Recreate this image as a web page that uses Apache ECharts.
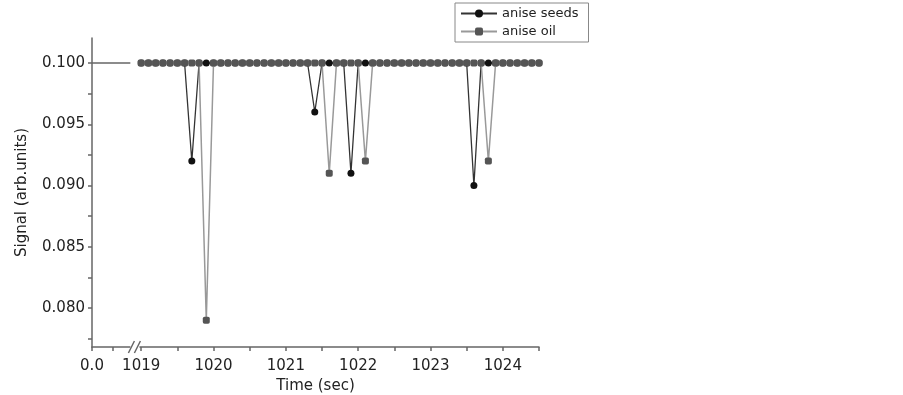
<!DOCTYPE html>
<html>
<head>
<meta charset="utf-8">
<script src="https://cdn.jsdelivr.net/npm/echarts@6/dist/echarts.min.js"></script>
<style>
  html, body { margin: 0; padding: 0; background: #fff; }
  #main { width: 903px; height: 395px; }
</style>
</head>
<body>
<div id="main"></div>
<script>
// 时间 (sec)，断轴右侧
const times = [
  1019.0, 1019.1, 1019.2, 1019.3, 1019.4, 1019.5, 1019.6, 1019.7, 1019.8, 1019.9,
  1020.0, 1020.1, 1020.2, 1020.3, 1020.4, 1020.5, 1020.6, 1020.7, 1020.8, 1020.9,
  1021.0, 1021.1, 1021.2, 1021.3, 1021.4, 1021.5, 1021.6, 1021.7, 1021.8, 1021.9,
  1022.0, 1022.1, 1022.2, 1022.3, 1022.4, 1022.5, 1022.6, 1022.7, 1022.8, 1022.9,
  1023.0, 1023.1, 1023.2, 1023.3, 1023.4, 1023.5, 1023.6, 1023.7, 1023.8, 1023.9,
  1024.0, 1024.1, 1024.2, 1024.3, 1024.4, 1024.5
];
const aniseSeeds = [
  0.100, 0.100, 0.100, 0.100, 0.100, 0.100, 0.100, 0.092, 0.100, 0.100,
  0.100, 0.100, 0.100, 0.100, 0.100, 0.100, 0.100, 0.100, 0.100, 0.100,
  0.100, 0.100, 0.100, 0.100, 0.096, 0.100, 0.100, 0.100, 0.100, 0.091,
  0.100, 0.100, 0.100, 0.100, 0.100, 0.100, 0.100, 0.100, 0.100, 0.100,
  0.100, 0.100, 0.100, 0.100, 0.100, 0.100, 0.090, 0.100, 0.100, 0.100,
  0.100, 0.100, 0.100, 0.100, 0.100, 0.100
];
const aniseOil = [
  0.100, 0.100, 0.100, 0.100, 0.100, 0.100, 0.100, 0.100, 0.100, 0.079,
  0.100, 0.100, 0.100, 0.100, 0.100, 0.100, 0.100, 0.100, 0.100, 0.100,
  0.100, 0.100, 0.100, 0.100, 0.100, 0.100, 0.091, 0.100, 0.100, 0.100,
  0.100, 0.092, 0.100, 0.100, 0.100, 0.100, 0.100, 0.100, 0.100, 0.100,
  0.100, 0.100, 0.100, 0.100, 0.100, 0.100, 0.100, 0.100, 0.092, 0.100,
  0.100, 0.100, 0.100, 0.100, 0.100, 0.100
];
// 断轴左侧 (0.0 开始的一小段)
const leftTimes = [0.0, 0.53];
const leftSignal = [0.100, 0.100];

// 刻度
const xLabelTimes = [0.0, 1019, 1020, 1021, 1022, 1023, 1024];
const xTickTimes = [0.0, 0.28, 1019, 1019.5, 1020, 1020.5, 1021, 1021.5, 1022, 1022.5, 1023, 1023.5, 1024, 1024.5];
const yLabels = [0.080, 0.085, 0.090, 0.095, 0.100];
const yTicks = [0.0775, 0.080, 0.0825, 0.085, 0.0875, 0.090, 0.0925, 0.095, 0.0975, 0.100];

// 断轴映射：1019 之后整体左移
const BREAK_SHIFT = 1018.32;
function toAxis(t) {
  return t >= 1000 ? +(t - BREAK_SHIFT).toFixed(4) : t;
}
function fromAxis(p) {
  if (p < 0.6) return p;
  return +(p + BREAK_SHIFT).toFixed(4);
}

const fontFamily = '"DejaVu Sans", "Liberation Sans", sans-serif';
const axisColor = '#666';

const myChart = echarts.init(document.getElementById('main'));

const option = {
  backgroundColor: '#fff',
  animation: false,
  grid: { left: 92, right: 364, top: 38, bottom: 48, outerBoundsMode: 'none', containLabel: false },
  legend: {
    orient: 'vertical',
    left: 455,
    top: 3,
    padding: [4, 10, 4, 5],
    itemGap: 5,
    itemWidth: 36,
    itemHeight: 10,
    borderColor: '#888',
    borderWidth: 1,
    data: ['anise seeds', 'anise oil'],
    textStyle: { fontFamily: fontFamily, fontSize: 13, color: '#222' }
  },
  xAxis: {
    type: 'value',
    min: 0,
    max: toAxis(1024.5),
    name: 'Time (sec)',
    nameLocation: 'middle',
    nameGap: 28,
    nameTextStyle: { fontFamily: fontFamily, fontSize: 15, color: '#222' },
    splitLine: { show: false },
    axisLine: { lineStyle: { color: axisColor, width: 1.5 } },
    axisTick: {
      show: true,
      inside: false,
      length: 4,
      lineStyle: { color: axisColor, width: 1.5 },
      customValues: xTickTimes.map(toAxis)
    },
    axisLabel: {
      fontFamily: fontFamily,
      fontSize: 15,
      color: '#222',
      margin: 12,
      customValues: xLabelTimes.map(toAxis),
      formatter: function (v) {
        const t = fromAxis(v);
        return t < 1 ? t.toFixed(1) : String(Math.round(t));
      }
    }
  },
  yAxis: {
    type: 'value',
    min: 0.07682,
    max: 0.10204,
    name: 'Signal (arb.units)',
    nameLocation: 'middle',
    nameGap: 62,
    nameTextStyle: { fontFamily: fontFamily, fontSize: 15, color: '#222' },
    splitLine: { show: false },
    axisLine: { show: true, lineStyle: { color: axisColor, width: 1.5 } },
    axisTick: {
      show: true,
      inside: false,
      length: 4,
      lineStyle: { color: axisColor, width: 1.5 },
      customValues: yTicks
    },
    axisLabel: {
      fontFamily: fontFamily,
      fontSize: 15,
      color: '#222',
      margin: 7,
      customValues: yLabels,
      formatter: function (v) { return v.toFixed(3); }
    }
  },
  series: [
    {
      name: 'left',
      type: 'line',
      silent: true,
      data: leftTimes.map((t, i) => [toAxis(t), leftSignal[i]]),
      showSymbol: false,
      symbol: 'none',
      lineStyle: { color: '#666', width: 1.5 },
      z: 1
    },
    {
      name: 'anise seeds',
      type: 'line',
      data: times.map((t, i) => [toAxis(t), aniseSeeds[i]]),
      symbol: 'circle',
      symbolSize: 7,
      showAllSymbol: true,
      itemStyle: { color: '#111' },
      lineStyle: { color: '#333', width: 1.3 },
      z: 2
    },
    {
      name: 'anise oil',
      type: 'line',
      data: times.map((t, i) => [toAxis(t), aniseOil[i]]),
      symbol: 'roundRect',
      symbolSize: 7,
      showAllSymbol: true,
      itemStyle: { color: '#555' },
      lineStyle: { color: '#999', width: 1.5 },
      z: 3
    }
  ]
};
myChart.setOption(option);

// 断轴符号 "//"
const brk = myChart.convertToPixel({ xAxisIndex: 0, yAxisIndex: 0 }, [0.6, 0.07682]);
const bx = brk[0], by = brk[1];
myChart.setOption({
  graphic: [
    { type: 'rect', shape: { x: bx - 5, y: by - 2, width: 9, height: 4 }, style: { fill: '#fff' }, z: 100 },
    { type: 'line', shape: { x1: bx - 7, y1: by + 6, x2: bx - 1, y2: by - 6 }, style: { stroke: axisColor, lineWidth: 1.5 }, z: 101 },
    { type: 'line', shape: { x1: bx - 1, y1: by + 6, x2: bx + 5, y2: by - 6 }, style: { stroke: axisColor, lineWidth: 1.5 }, z: 101 }
  ]
});
</script>
</body>
</html>
